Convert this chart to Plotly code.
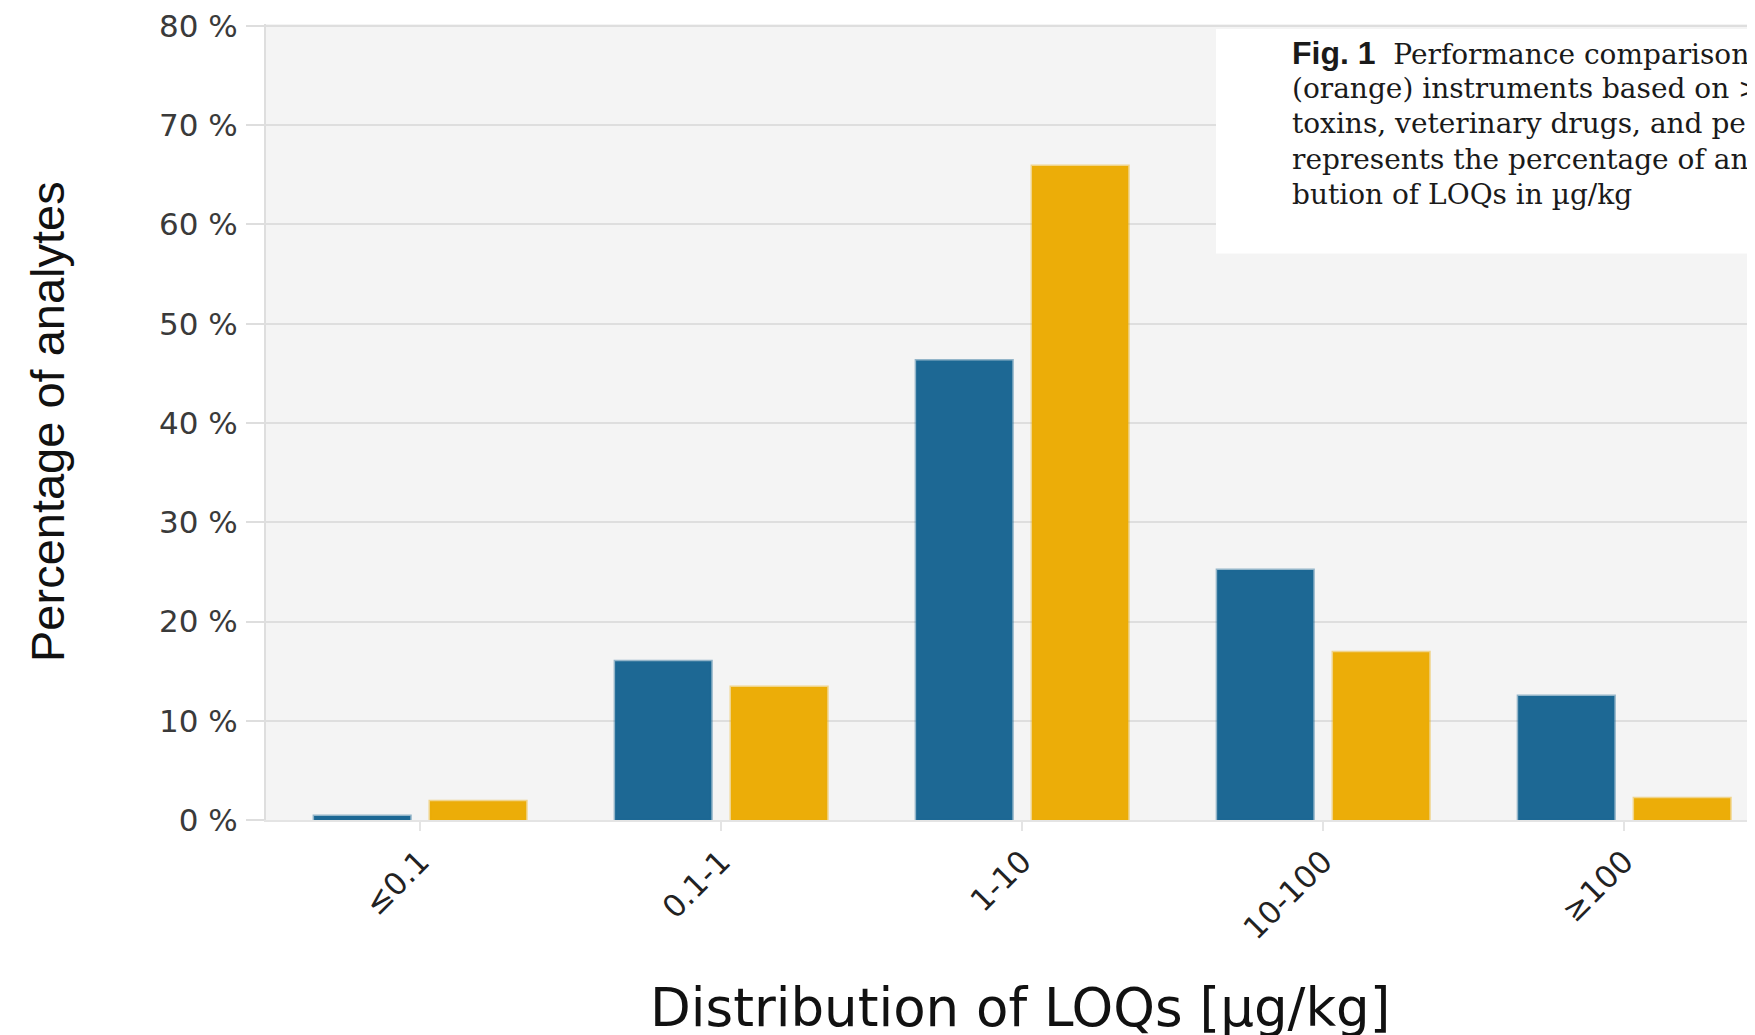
import plotly.graph_objects as go

categories = ["≤0.1", "0.1-1", "1-10", "10-100", "≥100"]
blue_values = [0.4, 16.0, 46.3, 25.2, 12.5]
orange_values = [1.9, 13.4, 65.9, 16.9, 2.2]
y_ticks = [0, 10, 20, 30, 40, 50, 60, 70, 80]
y_tick_labels = [f"{v} %" for v in y_ticks]
caption_lines = [
    "<span style=\"font-family:'Liberation Sans',Arial;font-weight:bold;font-size:32px\">Fig. 1</span>  Performance comparison of",
    "(orange) instruments based on >",
    "toxins, veterinary drugs, and pesticides",
    "represents the percentage of analytes",
    "bution of LOQs in µg/kg",
]

OFF = 8  # browser body margin
W, H = 1755, 1027
L, R, T, B = 258, 0, 14, 215
plot_w = W - L - R
plot_h = H - T - B


def px_x(wx):
    """window x pixel -> paper coordinate"""
    return (wx - OFF - L) / plot_w


def px_y(wy):
    """window y pixel -> paper coordinate"""
    return (H - B - (wy - OFF)) / plot_h


fig = go.Figure()
fig.add_trace(go.Bar(
    x=categories, y=blue_values, name="blue",
    marker=dict(color="#1d6894", line=dict(color="rgba(29,104,148,0.45)", width=3)),
))
fig.add_trace(go.Bar(
    x=categories, y=orange_values, name="orange",
    marker=dict(color="#ecad08", line=dict(color="rgba(236,173,8,0.45)", width=3)),
))

# caption box
fig.add_shape(type="rect", xref="paper", yref="paper",
              x0=px_x(1216), x1=1.05, y0=px_y(252), y1=px_y(27),
              fillcolor="white", line=dict(width=0), layer="above")

line_centers = [51, 87, 122, 158, 193]
for txt, cy in zip(caption_lines, line_centers):
    fig.add_annotation(
        text=txt, xref="paper", yref="paper",
        x=px_x(1290), y=px_y(cy), xanchor="left", yanchor="middle",
        showarrow=False, align="left",
        font=dict(family="DejaVu Serif, Liberation Serif, serif", size=28, color="#1a1a1a"),
    )

# axis titles
fig.add_annotation(
    text="Distribution of LOQs [µg/kg]", xref="paper", yref="paper",
    x=px_x(1020), y=px_y(1008), xanchor="center", yanchor="middle", showarrow=False,
    font=dict(family="DejaVu Sans, Verdana, sans-serif", size=53, color="#111111"),
)
fig.add_annotation(
    text="Percentage of analytes", xref="paper", yref="paper",
    x=px_x(47), y=px_y(421), xanchor="center", yanchor="middle", showarrow=False,
    textangle=-90,
    font=dict(family="Liberation Sans, Arial, sans-serif", size=47, color="#111111"),
)

fig.update_layout(
    width=W, height=H,
    margin=dict(l=L, r=R, t=T, b=B, pad=0),
    paper_bgcolor="white",
    plot_bgcolor="#f4f4f4",
    barmode="group",
    bargap=0.23,
    bargroupgap=0.17,
    showlegend=False,
    xaxis=dict(
        type="category",
        range=[-0.512, 4.461],
        showgrid=False,
        showline=True, linecolor="#e4e4e4", linewidth=2,
        ticks="outside", ticklen=9, tickwidth=2, tickcolor="#e4e4e4",
        tickangle=-45,
        tickfont=dict(family="DejaVu Sans, Verdana, sans-serif", size=31, color="#222222"),
        fixedrange=True,
    ),
    yaxis=dict(
        range=[0, 80.2],
        tickvals=y_ticks,
        ticktext=y_tick_labels,
        showgrid=True, gridcolor="#dedede", gridwidth=2,
        zeroline=False,
        showline=True, linecolor="#dedede", linewidth=2,
        ticks="outside", ticklen=18, tickwidth=2, tickcolor="#dedede",
        ticklabelstandoff=2,
        ticklabeloverflow="allow",
        tickfont=dict(family="DejaVu Sans, Verdana, sans-serif", size=31, color="#3a3a3a"),
        fixedrange=True,
    ),
)

fig.write_html("out.html", config={"displayModeBar": False})
